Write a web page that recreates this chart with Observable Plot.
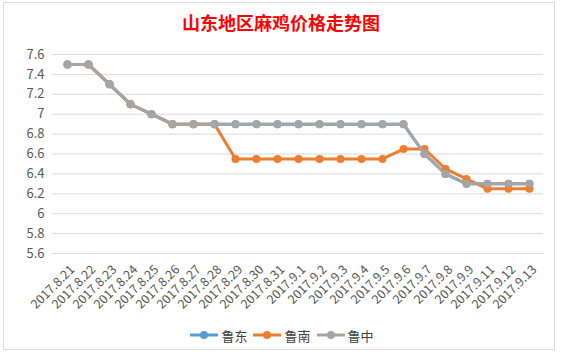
<!DOCTYPE html>
<html>
<head>
<meta charset="utf-8">
<script src="https://cdn.jsdelivr.net/npm/d3@7"></script>
<script src="https://cdn.jsdelivr.net/npm/@observablehq/plot@0.6"></script>
<style>
  html, body { margin: 0; padding: 0; background: #fff; }
  #wrap { position: relative; width: 562px; height: 358px; font-family: "Noto Sans CJK SC", "Noto Sans", sans-serif; }
  #frame { position: absolute; left: 3px; top: 2px; width: 552px; height: 348px; border: 1px solid #d9d9d9; box-sizing: border-box; }
  #title { height: 40px; line-height: 45px; text-align: center; color: #ff0000; font-weight: bold; font-size: 18px; }
  #legend { display: flex; justify-content: center; align-items: center; gap: 6px; height: 30px; font-size: 13px; color: #404040; margin-left: 2px; }
  .item { display: flex; align-items: center; gap: 3px; }
  svg { display: block; }
</style>
</head>
<body>
<div id="wrap">
  <div id="frame"></div>
  <div id="title">山东地区麻鸡价格走势图</div>
  <div id="chart"></div>
  <div id="legend"></div>
</div>
<script>
const dates = ["2017.8.21","2017.8.22","2017.8.23","2017.8.24","2017.8.25","2017.8.26","2017.8.27","2017.8.28","2017.8.29","2017.8.30","2017.8.31","2017.9.1","2017.9.2","2017.9.3","2017.9.4","2017.9.5","2017.9.6","2017.9.7","2017.9.8","2017.9.9","2017.9.11","2017.9.12","2017.9.13"];
const ludong  = [7.5,7.5,7.3,7.1,7.0,6.9,6.9,6.9,6.9,6.9,6.9,6.9,6.9,6.9,6.9,6.9,6.9,6.6,6.4,6.3,6.3,6.3,6.3];
const lunan   = [7.5,7.5,7.3,7.1,7.0,6.9,6.9,6.9,6.55,6.55,6.55,6.55,6.55,6.55,6.55,6.55,6.65,6.65,6.45,6.35,6.25,6.25,6.25];
const luzhong = [7.5,7.5,7.3,7.1,7.0,6.9,6.9,6.9,6.9,6.9,6.9,6.9,6.9,6.9,6.9,6.9,6.9,6.6,6.4,6.3,6.3,6.3,6.3];
const seriesNames = ["鲁东","鲁南","鲁中"];
const seriesColors = ["#5B9BD5","#ED7D31","#A5A5A5"];
const yTicks = [5.6,5.8,6.0,6.2,6.4,6.6,6.8,7.0,7.2,7.4,7.6];

const seriesValues = [ludong, lunan, luzhong];
const data = seriesNames.flatMap((name, k) => dates.map((d, i) => ({date: d, value: seriesValues[k][i], series: name})));

const chart = Plot.plot({
  width: 562,
  height: 280,
  marginLeft: 52,
  marginRight: 19,
  marginTop: 14,
  marginBottom: 67,
  style: {fontFamily: "'Noto Sans CJK SC', 'Noto Sans', sans-serif", fontSize: "12px", color: "#595959", background: "transparent"},
  x: {type: "point", domain: dates, padding: 0.5},
  y: {domain: [5.6, 7.6]},
  color: {domain: seriesNames, range: seriesColors},
  marks: [
    Plot.ruleY(yTicks, {stroke: "#d9d9d9", strokeWidth: 1}),
    Plot.axisY(yTicks, {tickSize: 0, tickPadding: 8, fontSize: 13, tickFormat: d => String(+d.toFixed(1)), label: null, fill: "#595959"}),
    Plot.axisX({tickRotate: -45, tickSize: 0, tickPadding: 6, dx: 5, dy: 8, fontSize: 12.5, label: null, fill: "#555555"}),
    ...seriesNames.flatMap(name => [
      Plot.line(data.filter(d => d.series === name), {x: "date", y: "value", stroke: "series", strokeWidth: 3}),
      Plot.dot(data.filter(d => d.series === name), {x: "date", y: "value", fill: "series", r: 4})
    ])
  ]
});
document.getElementById("chart").appendChild(chart);

const legend = document.getElementById("legend");
seriesNames.forEach((name, i) => {
  const item = document.createElement("div");
  item.className = "item";
  item.innerHTML = `<svg width="28" height="10"><line x1="0" y1="5" x2="28" y2="5" stroke="${seriesColors[i]}" stroke-width="3"/><circle cx="14" cy="5" r="4" fill="${seriesColors[i]}"/></svg><span>${name}</span>`;
  legend.appendChild(item);
});
</script>
</body>
</html>
